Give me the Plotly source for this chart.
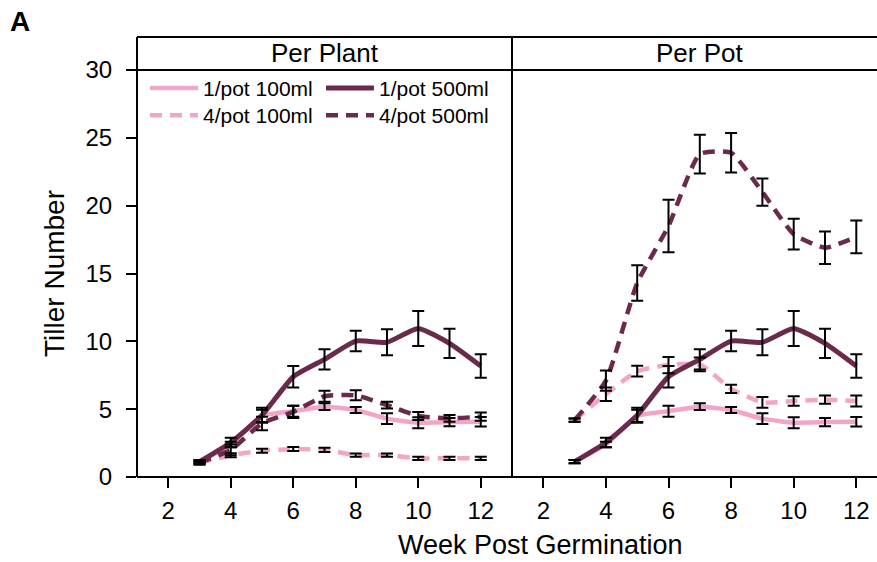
import plotly.graph_objects as go

weeks = [3, 4, 5, 6, 7, 8, 9, 10, 11, 12]

one_100 = [1.13, 2.4, 4.5, 4.85, 5.18, 4.94, 4.3, 4.0, 4.05, 4.08]
one_100_err = [0.12, 0.2, 0.45, 0.4, 0.25, 0.22, 0.4, 0.4, 0.3, 0.35]
one_500 = [1.13, 2.55, 4.55, 7.39, 8.67, 10.02, 9.93, 10.95, 9.85, 8.18]
one_500_err = [0.12, 0.35, 0.55, 0.8, 0.74, 0.76, 0.96, 1.29, 1.07, 0.86]

four_100_plant = [1.05, 1.6, 1.94, 2.06, 2.0, 1.62, 1.62, 1.38, 1.38, 1.38]
four_100_plant_err = [0.12, 0.15, 0.15, 0.15, 0.15, 0.12, 0.12, 0.12, 0.12, 0.12]
four_500_plant = [1.05, 2.0, 3.95, 4.8, 5.95, 6.02, 5.3, 4.5, 4.32, 4.45]
four_500_plant_err = [0.12, 0.4, 0.5, 0.45, 0.4, 0.37, 0.25, 0.3, 0.25, 0.3]

four_100_pot = [4.2, 6.1, 7.8, 8.25, 8.3, 6.5, 5.5, 5.6, 5.7, 5.6]
four_100_pot_err = [0.12, 0.5, 0.4, 0.6, 0.5, 0.3, 0.4, 0.35, 0.3, 0.4]
four_500_pot = [4.2, 7.1, 14.3, 18.5, 23.8, 23.9, 21.0, 17.9, 16.9, 17.7]
four_500_pot_err = [0.12, 0.75, 1.3, 1.93, 1.43, 1.45, 1.0, 1.13, 1.2, 1.2]

panel_titles = ["Per Plant", "Per Pot"]
x_ticks = [2, 4, 6, 8, 10, 12]
y_ticks = [0, 5, 10, 15, 20, 25, 30]

PINK = "#f2a6c7"
DARK = "#6a2a4c"
FONT = "Arial, Liberation Sans, sans-serif"
DASH = "12px,8px"

fig = go.Figure()

panels = [
    ("x", "y", one_100, one_100_err, one_500, one_500_err,
     four_100_plant, four_100_plant_err, four_500_plant, four_500_plant_err, True),
    ("x2", "y2", one_100, one_100_err, one_500, one_500_err,
     four_100_pot, four_100_pot_err, four_500_pot, four_500_pot_err, False),
]

for xa, ya, o1, o1e, o5, o5e, f1, f1e, f5, f5e, show in panels:
    series = [
        ("4/pot 100ml", f1, f1e, PINK, DASH, 4.5, "legend2"),
        ("1/pot 100ml", o1, o1e, PINK, "solid", 4.5, "legend"),
        ("4/pot 500ml", f5, f5e, DARK, DASH, 4.5, "legend2"),
        ("1/pot 500ml", o5, o5e, DARK, "solid", 5, "legend"),
    ]
    for name, vals, errs, col, dash, w, lg in series:
        fig.add_trace(go.Scatter(
            x=weeks, y=vals, mode="lines", name=name,
            line=dict(color=col, width=w, dash=dash, shape="spline", smoothing=0.5),
            xaxis=xa, yaxis=ya, showlegend=show, legend=lg,
        ))
    for name, vals, errs, col, dash, w, lg in series:
        fig.add_trace(go.Scatter(
            x=weeks, y=vals, mode="markers",
            marker=dict(size=1, color="rgba(0,0,0,0)"),
            error_y=dict(type="data", array=errs, visible=True, color="black",
                         thickness=2, width=6),
            xaxis=xa, yaxis=ya, showlegend=False, hoverinfo="skip",
        ))

L, R, T, B = 137, 0, 37, 85
W, H = 877, 562
pw = W - L - R
ph = H - T - B
split = (512 - L) / pw
ytop = (477 - 70) / ph

axis_common = dict(showgrid=False, zeroline=False, showline=False,
                   ticks="outside", ticklen=10, tickwidth=2, tickcolor="black",
                   tickfont=dict(family=FONT, size=24, color="black"))

legend_common = dict(orientation="h", xanchor="left", yanchor="top",
                     font=dict(family=FONT, size=21), bgcolor="rgba(0,0,0,0)",
                     entrywidth=113, entrywidthmode="pixels", tracegroupgap=0,
                     itemwidth=48)

fig.update_layout(
    width=W, height=H,
    margin=dict(l=L, r=R, t=T, b=B),
    paper_bgcolor="white", plot_bgcolor="white",
    font=dict(family=FONT, color="black"),
    xaxis=dict(domain=[0, split], range=[1, 13], tickvals=x_ticks, anchor="y",
               ticklabelstandoff=2, **axis_common),
    xaxis2=dict(domain=[split, 1], range=[1, 1 + (W - 512) / 31.3], tickvals=x_ticks, anchor="y2",
                ticklabelstandoff=2, **axis_common),
    yaxis=dict(domain=[0, ytop], range=[0, 30], tickvals=y_ticks, anchor="x",
               ticklabelstandoff=9,
               title=dict(text="Tiller Number", font=dict(family=FONT, size=28), standoff=12),
               **axis_common),
    yaxis2=dict(domain=[0, ytop], range=[0, 30], anchor="x2", showticklabels=False,
                showgrid=False, zeroline=False, showline=False, ticks=""),
    legend=dict(x=8 / pw, y=0.93, **legend_common),
    legend2=dict(x=8 / pw, y=0.868, **legend_common),
    showlegend=True,
)

line = dict(color="black", width=2)
shapes = [
    dict(type="line", xref="paper", yref="paper", x0=0, x1=1, y0=1, y1=1, line=line),
    dict(type="line", xref="paper", yref="paper", x0=0, x1=1, y0=ytop, y1=ytop, line=line),
    dict(type="line", xref="paper", yref="paper", x0=0, x1=1, y0=0, y1=0, line=line),
    dict(type="line", xref="paper", yref="paper", x0=0, x1=0, y0=0, y1=1, line=line),
    dict(type="line", xref="paper", yref="paper", x0=split, x1=split, y0=0, y1=1, line=line),
]
fig.update_layout(shapes=shapes)

hy = (1 + ytop) / 2
fig.add_annotation(text=panel_titles[0], xref="paper", yref="paper", x=split / 2, y=hy,
                   showarrow=False, font=dict(family=FONT, size=26), xanchor="center", yanchor="middle")
fig.add_annotation(text=panel_titles[1], xref="paper", yref="paper",
                   x=((512 + 887) / 2 - L) / pw, y=hy,
                   showarrow=False, font=dict(family=FONT, size=26), xanchor="center", yanchor="middle")
fig.add_annotation(text="Week Post Germination", xref="paper", yref="paper",
                   x=(540 - L) / pw, y=-(545 - 477) / ph, showarrow=False,
                   font=dict(family=FONT, size=27), xanchor="center", yanchor="middle")
fig.add_annotation(text="<b>A</b>", xref="paper", yref="paper",
                   x=-(137 - 8) / pw, y=1 + (37 - 22) / ph, showarrow=False,
                   font=dict(family=FONT, size=28), xanchor="left", yanchor="middle")

fig.write_html("out.html")
